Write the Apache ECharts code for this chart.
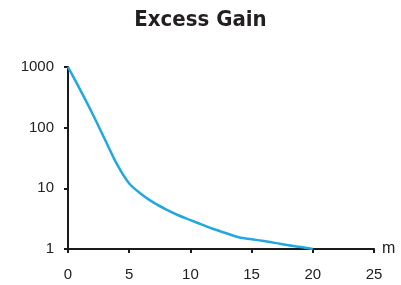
<!DOCTYPE html>
<html>
<head>
<meta charset="utf-8">
<script src="https://cdn.jsdelivr.net/npm/echarts@6/dist/echarts.min.js"></script>
<style>
  html, body { margin: 0; padding: 0; background: #fff; }
  #chart { width: 401px; height: 285px; }
</style>
</head>
<body>
<div id="chart"></div>
<script>
// values
const mValues = [0, 1, 2, 3, 4, 5, 6, 7, 8, 9, 10, 11, 12, 13, 14, 15, 16, 17, 18, 19, 20]
const gainValues = [1000, 420, 170, 65, 25, 12, 8, 5.8, 4.5, 3.6, 3, 2.5, 2.1, 1.8, 1.55, 1.45, 1.35, 1.25, 1.15, 1.08, 1]
const yTicks = [1, 10, 100, 1000]

const chart = echarts.init(document.getElementById('chart'))
const axisColor = '#1a1a1a'
const labelFont = { color: '#222', fontSize: 15, fontFamily: 'Liberation Sans, Arial, sans-serif' }

chart.setOption({
  animation: false,
  title: {
    text: 'Excess Gain',
    left: 'center',
    top: 4,
    textStyle: {
      fontFamily: 'Liberation Sans Narrow, DejaVu Sans Condensed, sans-serif',
      fontWeight: 'bold',
      fontSize: 22,
      color: '#231f20',
    },
  },
  grid: { left: 68, right: 27, top: 67, bottom: 36 },
  xAxis: {
    type: 'value',
    min: 0,
    max: 25,
    interval: 5,
    name: 'm',
    nameLocation: 'end',
    nameGap: 8,
    nameTextStyle: { ...labelFont, fontSize: 16, verticalAlign: 'middle' },
    axisLine: { show: true, lineStyle: { color: axisColor, width: 2 } },
    axisTick: { show: true, length: 4, lineStyle: { color: axisColor, width: 2 } },
    axisLabel: { ...labelFont, margin: 18 },
    splitLine: { show: false },
  },
  yAxis: {
    type: 'log',
    logBase: 10,
    min: yTicks[0],
    max: yTicks[yTicks.length - 1],
    axisLine: { show: true, lineStyle: { color: axisColor, width: 2 } },
    axisTick: { show: true, length: 4, lineStyle: { color: axisColor, width: 2 } },
    axisLabel: { ...labelFont, margin: 14, formatter: (v) => String(Math.round(v)) },
    splitLine: { show: false },
    minorTick: { show: false },
  },
  series: [
    {
      type: 'line',
      data: mValues.map((m, i) => [m, gainValues[i]]),
      smooth: 0.3,
      showSymbol: false,
      lineStyle: { color: '#22a8e0', width: 2.5 },
    },
  ],
})
</script>
</body>
</html>
